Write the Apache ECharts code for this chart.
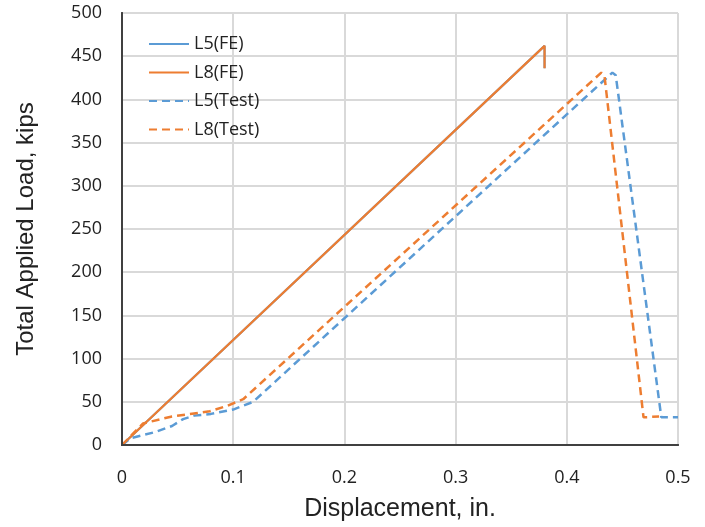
<!DOCTYPE html>
<html><head><meta charset="utf-8">
<script src="https://cdn.jsdelivr.net/npm/echarts@6/dist/echarts.min.js"></script>
<style>html,body{margin:0;padding:0;background:#fff}#c{width:705px;height:527px}</style>
</head><body><div id="c"></div>
<script>
var seriesNames = ['L5(FE)', 'L8(FE)', 'L5(Test)', 'L8(Test)'];
var xTicks = [0, 0.1, 0.2, 0.3, 0.4, 0.5];
var yTicks = [0, 50, 100, 150, 200, 250, 300, 350, 400, 450, 500];
var l5FE = [[0, 0], [0.38, 462], [0.38, 436]];
var l8FE = [[0, 0], [0.38, 462], [0.38, 436]];
var l5Test = [[0, 0], [0.008, 8], [0.03, 15], [0.045, 22], [0.055, 30], [0.065, 34], [0.08, 36], [0.1, 41], [0.118, 50], [0.441, 431], [0.444, 428], [0.485, 32], [0.5, 32]];
var l8Test = [[0, 0], [0.019, 25], [0.045, 33], [0.079, 39], [0.094, 45], [0.109, 53], [0.431, 431], [0.434, 426], [0.469, 32], [0.483, 33]];

var blue = '#5B9BD5', orange = '#ED7D31';
var chart = echarts.init(document.getElementById('c'));
function mk(name, data, color, dashed, z) {
  return {
    name: name, type: 'line', data: data, showSymbol: false, symbol: 'none',
    z: z, animation: false, xAxisIndex: 0, yAxisIndex: 0,
    lineStyle: { color: color, width: dashed ? 2.5 : 2.2, type: dashed ? [8, 5] : 'solid' },
    itemStyle: { color: color }
  };
}
chart.setOption({
  animation: false,
  grid: { left: 122, right: 27, top: 13, bottom: 81 },
  legend: {
    left: 143, top: 30, orient: 'vertical', itemWidth: 40, itemHeight: 14, itemGap: 10.5, z: 20,
    itemStyle: { color: 'rgba(0,0,0,0)', borderWidth: 0, opacity: 0 },
    textStyle: { fontFamily: 'Open Sans', fontSize: 18, color: '#222' },
    data: seriesNames
  },
  xAxis: [{
    type: 'value', min: xTicks[0], max: xTicks[xTicks.length - 1], interval: 0.1,
    name: 'Displacement, in.', nameLocation: 'middle', nameGap: 52,
    nameTextStyle: { fontFamily: 'Liberation Sans', fontSize: 25, color: '#222' },
    axisLine: { show: true, lineStyle: { color: '#404040', width: 2 } },
    axisTick: { show: false },
    axisLabel: { margin: 24, fontFamily: 'Open Sans', fontSize: 18, color: '#222', formatter: function (v) { return String(Math.round(v * 10) / 10); } },
    splitLine: { show: true, lineStyle: { color: '#d9d9d9', width: 2 } }
  }, {
    type: 'value', position: 'top', min: xTicks[0], max: xTicks[xTicks.length - 1], interval: 0.1,
    axisLine: { show: true, lineStyle: { color: '#404040', width: 2 } },
    axisTick: { show: false }, axisLabel: { show: false }, splitLine: { show: false }, z: 10
  }],
  yAxis: [{
    type: 'value', min: yTicks[0], max: yTicks[yTicks.length - 1], interval: 50,
    name: 'Total Applied Load, kips', nameLocation: 'middle', nameGap: 84,
    nameTextStyle: { fontFamily: 'Liberation Sans', fontSize: 24, color: '#222' },
    axisLine: { show: true, lineStyle: { color: '#404040', width: 2 } },
    axisTick: { show: false },
    axisLabel: { margin: 20, fontFamily: 'Open Sans', fontSize: 18, color: '#222' },
    splitLine: { show: true, lineStyle: { color: '#d9d9d9', width: 2 } }
  }, {
    type: 'value', position: 'right', min: yTicks[0], max: yTicks[yTicks.length - 1], interval: 50,
    axisLine: { show: true, lineStyle: { color: '#404040', width: 2 } },
    axisTick: { show: false }, axisLabel: { show: false }, splitLine: { show: false }, z: 10
  }],
  series: [
    mk(seriesNames[0], l5FE, blue, false, 2),
    mk(seriesNames[1], l8FE, orange, false, 3),
    mk(seriesNames[2], l5Test, blue, true, 4),
    mk(seriesNames[3], l8Test, orange, true, 5)
  ]
});
</script></body></html>
